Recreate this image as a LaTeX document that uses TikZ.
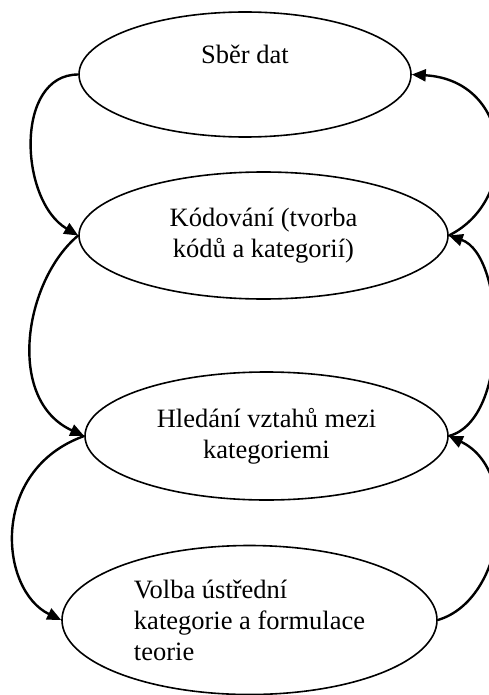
\documentclass[tikz,border=0pt]{standalone}
\usepackage{fontspec}
\setmainfont{Liberation Serif}
\usetikzlibrary{shapes.geometric,arrows.meta}
\begin{document}
\begin{tikzpicture}[x=1pt,y=-1pt,
  stage/.style={ellipse,draw,line width=1.6pt,inner sep=0pt,align=center,
    font=\fontsize{26.5}{31}\selectfont},
  flow/.style={line width=2.4pt,-{Triangle[length=14pt,width=12pt]}}]
\useasboundingbox (0,0) rectangle (489,695);
\node[stage,minimum width=332pt,minimum height=125pt] (e1) at (245,74.5) {Sběr dat\\\strut};
\node[stage,minimum width=369pt,minimum height=127pt] (e2) at (263.5,235.5) {Kódování (tvorba\\kódů a kategorií)};
\node[stage,minimum width=363pt,minimum height=128pt] (e3) at (266.5,436) {Hledání vztahů mezi\\kategoriemi};
\node[stage,minimum width=375pt,minimum height=149pt,align=left] (e4) at (249.5,620) {Volba ústřední\\kategorie a formulace\\teorie};
% left side, downward
\draw[flow] (e1.west) .. controls +(-64,0) and +(-59,-35) .. (e2.west);
\draw[flow] (e2.west) .. controls +(-54,45) and +(-79,-36) .. (e3.west);
\draw[flow] (e3.west) .. controls +(-95,34) and +(-62,-30) .. (e4.west);
% right side, upward
\draw[flow] (e4.east) .. controls +(68,-20) and +(72,34) .. (e3.east);
\draw[flow] (e3.east) .. controls +(62,-16) and +(57,19.5) .. (e2.east);
\draw[flow] (e2.east) .. controls +(72,-35.5) and +(102,6) .. (e1.east);
\end{tikzpicture}
\end{document}
